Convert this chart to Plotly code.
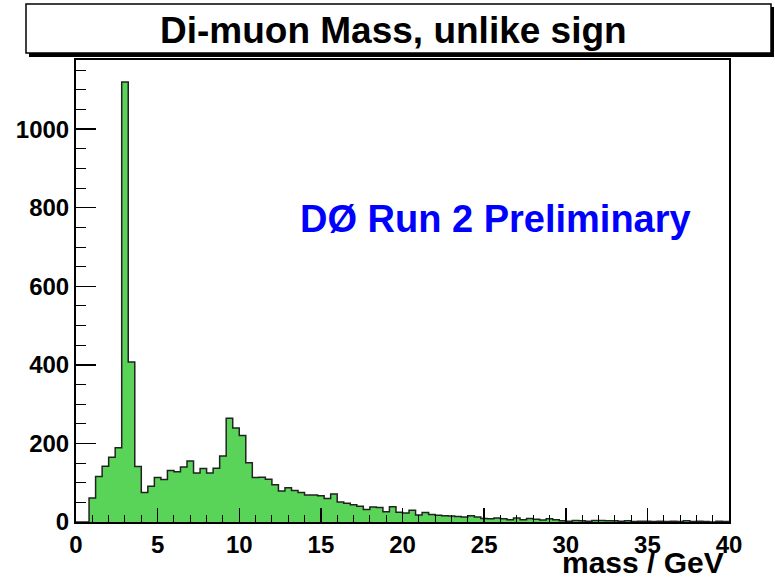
import plotly.graph_objects as go

# ---- data ----
bin_width = 0.4
n_bins = 100
x_min = 0.0
counts = [
    0, 0, 61, 116, 142, 165, 189, 1120, 407, 141,
    75, 91, 113, 108, 131, 128, 140, 155, 125, 136,
    125, 137, 168, 264, 239, 220, 151, 113, 114, 109,
    95, 79, 87, 80, 75, 69, 69, 67, 60, 71,
    51, 48, 44, 40, 32, 38, 37, 26, 39, 25,
    23, 30, 18, 24, 19, 17, 16, 15, 14, 13,
    16, 13, 9, 8, 10, 8, 6, 10, 6, 9,
    7, 5, 8, 6, 3, 2, 4, 3, 2, 4,
    4, 3, 3, 2, 3, 1, 2, 2, 1, 2,
    1, 2, 1, 3, 1, 2, 1, 0, 2, 1,
]
x_ticks = [0, 5, 10, 15, 20, 25, 30, 35, 40]
y_ticks = [0, 200, 400, 600, 800, 1000]
title_text = "Di-muon Mass, unlike sign"
label_text = "DØ Run 2 Preliminary"
x_title = "mass / GeV"

# ---- figure geometry (pixels) ----
W, H = 775, 577
L, R, T, B = 76, 729, 60, 522
pw, ph = R - L, B - T


def px(xp):
    return (xp - L) / pw


def py(yp):
    return (B - yp) / ph


edges = [x_min + i * bin_width for i in range(n_bins + 1)]
step_x = edges
step_y = counts + [counts[-1]]

FONT = "Liberation Sans, Arial, Helvetica, sans-serif"

fig = go.Figure()
fig.add_trace(go.Scatter(
    x=step_x, y=step_y, mode="lines", line_shape="hv",
    line=dict(color="#222222", width=1.5),
    fill="tozeroy", fillcolor="rgb(89,212,89)",
    hoverinfo="skip", showlegend=False,
))

fig.update_layout(
    width=W, height=H,
    margin=dict(l=L, r=W - R, t=T, b=H - B, pad=0),
    paper_bgcolor="white", plot_bgcolor="white",
    showlegend=False,
    xaxis=dict(
        range=[0, 40], tickvals=x_ticks, ticks="inside", ticklen=14,
        tickwidth=1.5, tickcolor="black",
        minor=dict(dtick=1, ticks="inside", ticklen=7, tickwidth=1, tickcolor="black"),
        showline=True, linecolor="black", linewidth=2, mirror=True,
        showgrid=False, zeroline=False,
        tickfont=dict(family=FONT, size=24, color="black", weight="bold"),
    ),
    yaxis=dict(
        range=[0, 1176], tickvals=y_ticks, ticks="inside", ticklen=20,
        tickwidth=1.5, tickcolor="black",
        minor=dict(dtick=50, ticks="inside", ticklen=10, tickwidth=1, tickcolor="black"),
        showline=True, linecolor="black", linewidth=2, mirror=True,
        showgrid=False, zeroline=False,
        tickfont=dict(family=FONT, size=24, color="black", weight="bold"),
    ),
)

# title box with shadow
fig.add_shape(type="rect", xref="paper", yref="paper",
              x0=px(29), x1=px(774), y0=py(57), y1=py(7),
              fillcolor="black", line=dict(width=0), layer="above")
fig.add_shape(type="rect", xref="paper", yref="paper",
              x0=px(26), x1=px(771), y0=py(53), y1=py(4),
              fillcolor="white", line=dict(color="black", width=1.5), layer="above")

fig.add_annotation(text=title_text, xref="paper", yref="paper",
                   x=px(393), y=py(30), xanchor="center", yanchor="middle",
                   showarrow=False,
                   font=dict(family=FONT, size=37, color="black", weight="bold"))

fig.add_annotation(text=label_text, xref="paper", yref="paper",
                   x=px(495.5), y=py(219), xanchor="center", yanchor="middle",
                   showarrow=False,
                   font=dict(family=FONT, size=38, color="rgb(0,0,255)", weight="bold"))

fig.add_annotation(text=x_title, xref="paper", yref="paper",
                   x=px(726), y=py(562), xanchor="right", yanchor="middle",
                   showarrow=False,
                   font=dict(family=FONT, size=30, color="black", weight="bold"))

fig.write_html(
    "out.html",
    config={"displayModeBar": False, "staticPlot": True},
    post_script="document.body.style.margin='0';document.body.style.padding='0';"
                "document.body.style.overflow='hidden';",
)
